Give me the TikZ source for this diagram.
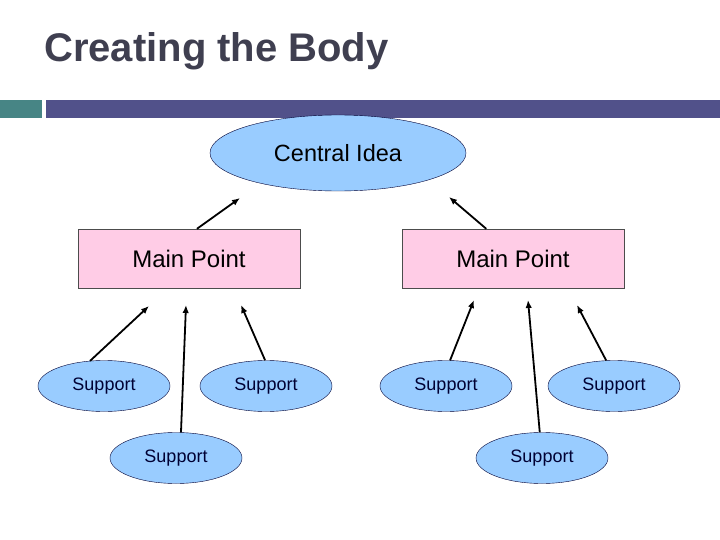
\documentclass[tikz,border=0pt]{standalone}
\usepackage{fontspec}
\setmainfont{Liberation Sans}
\usetikzlibrary{shapes.geometric, arrows.meta}
\definecolor{titlegray}{HTML}{3F3F50}
\definecolor{barteal}{HTML}{478585}
\definecolor{barblue}{HTML}{51518A}
\definecolor{idea}{HTML}{99CCFF}
\definecolor{pointpink}{HTML}{FFCCE6}
\definecolor{inkblue}{HTML}{000033}
\begin{document}
\begin{tikzpicture}[x=1pt, y=-1pt,
  idea/.style={draw=inkblue, ellipse, fill=idea, inner sep=0pt},
  point/.style={draw=black!70, fill=pointpink, minimum width=222pt, minimum height=59pt, font=\fontsize{24}{28}\selectfont},
  support/.style={idea, minimum width=132pt, minimum height=51pt, text=inkblue, font=\fontsize{18}{21}\selectfont},
  link/.style={-{Latex[length=8pt, width=6.5pt]}, line width=1.8pt}]
\useasboundingbox (0,0) rectangle (720,540);
\fill[white] (0,0) rectangle (720,540);

% title and bars
\node (title) [anchor=base west, inner sep=0pt, text=titlegray, font=\fontsize{40}{46}\selectfont\bfseries] at (44,62) {Creating the Body};
\fill[barteal] (0,100) rectangle (42,118);
\fill[barblue] (46,100) rectangle (720,118);

\node (central) [idea, minimum width=256pt, minimum height=76pt, font=\fontsize{23.5}{28}\selectfont] at (338,153) {Central Idea};
\node (pointL) [point] at (189,258.5) {Main Point};
\node (pointR) [point] at (513,258.5) {Main Point};

\node (supA) [support] at (104,386) {Support};
\node (supB) [support] at (266,386) {Support};
\node (supC) [support] at (176,458) {Support};
\node (supD) [support] at (446,386) {Support};
\node (supE) [support] at (614,386) {Support};
\node (supF) [support] at (542,458) {Support};

% free arrow ends
\coordinate (tipL) at (240,198);
\coordinate (tipR) at (449,197);
\coordinate (tipA) at (149,306);
\coordinate (tipC) at (186,305);
\coordinate (tipB) at (241,305);
\coordinate (tipD) at (474,300);
\coordinate (tipF) at (528,300);
\coordinate (tipE) at (577,305);

\draw[link] (pointL.75) -- (tipL);
\draw[link] (pointR.132) -- (tipR);
\draw[link] (supA.119) -- (tipA);
\draw[link] (supC.79) -- (tipC);
\draw[link] (supB.92) -- (tipB);
\draw[link] (supD.81) -- (tipD);
\draw[link] (supF.95) -- (tipF);
\draw[link] (supE.107) -- (tipE);
\end{tikzpicture}
\end{document}
